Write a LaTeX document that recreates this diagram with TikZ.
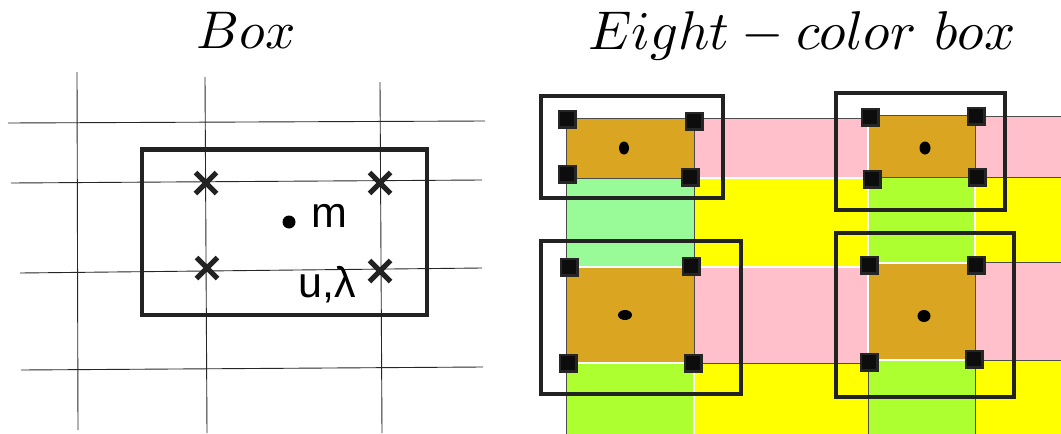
\documentclass[tikz,border=0pt]{standalone}
\usepackage{fontspec}
\usetikzlibrary{shapes.misc}
\newfontfamily\labelfont{Liberation Sans}
\definecolor{Gold}{HTML}{DAA520}
\definecolor{Pink}{HTML}{FFC0CB}
\definecolor{PaleGreen}{HTML}{98FB98}
\definecolor{LimeGreen}{HTML}{ADFF2F}
\definecolor{Yellow}{HTML}{FFFF00}
\definecolor{Ink}{HTML}{222222}

\begin{document}
\begin{tikzpicture}[x=1pt,y=-1pt,
  gridline/.style={black!85,line width=0.9pt},
  boxline/.style={Ink,line width=4.5pt},
  colorbox/.style={Ink,line width=3.3pt},
  cell/.style={draw=black!70,line width=0.8pt},
  seam/.style={draw=black!70,line width=0.7pt,double=white,double distance=1.3pt},
  xmark/.style={draw=Ink,cross out,line width=5pt,minimum size=16pt,inner sep=0pt},
  corner/.style={draw=black!85,fill=black!95,line width=2.5pt,minimum size=16.5pt,inner sep=0pt},
  bullet/.style={circle,fill=black,minimum size=13pt,inner sep=0pt},
  title/.style={scale=5.3,inner sep=0pt,anchor=base},
  tag/.style={font=\labelfont\fontsize{43}{43}\selectfont,inner sep=0pt,anchor=base west}]
\useasboundingbox (0,0) rectangle (1061,434);
% titles
\node[title] (box-title) at (246,48) {$Box$};
\node[title,scale=1.03] (eight-title) at (802,49) {$Eight-color\ box$};
% left panel: mesh and one box
\foreach \xa/\ya/\xb/\yb in {77/72/78/430,205/77/207/433,380/82/382/433} {\draw[gridline] (\xa,\ya) -- (\xb,\yb);}
\foreach \xa/\ya/\xb/\yb in {8/123/485/121,11/183/482/180,20/273/482/268,21/370/483/367} {\draw[gridline] (\xa,\ya) -- (\xb,\yb);}
\draw[boxline] (142,149.5) rectangle (427,315);
\foreach \n/\x/\y in {1/206/183,2/380/183,3/207/268,4/380/271} {\node[xmark] (x\n) at (\x,\y) {};}
\node[bullet] (m-dot) at (289,222) {};
\node[tag] (m-tag) at (311,227) {m};
\node[tag] (ul-tag) at (298,297) {u,λ};
% right panel: colored cells
\begin{scope}
\clip (520,0) rectangle (1061,434);
\foreach \xa/\xb/\ya/\yb/\c in {566/694/118/178/Gold,566/694/178/267/PaleGreen,566/694/267/363/Gold,566/694/363/440/LimeGreen,
  694/868/118/178/Pink,694/868/178/267/Yellow,694/868/267/363/Pink,694/868/363/440/Yellow,
  868/975/115/177/Gold,868/975/177/263/LimeGreen,868/975/263/360/Gold,868/975/360/440/LimeGreen,
  975/1070/116/177/Pink,975/1070/177/262/Yellow,975/1070/262/360/Pink,975/1070/360/440/Yellow}
  {\filldraw[cell,fill=\c] (\xa,\ya) rectangle (\xb,\yb);}
\foreach \xa/\ya/\xb/\yb in {694/178/868/178,868/116/868/363,975/177/975/263,566/267/868/267,868/263/975/263,566/363/694/363,868/360/975/360,694/363/694/440}
  {\draw[seam] (\xa,\ya) -- (\xb,\yb);}
\end{scope}
% cell centres
\foreach \x/\y/\rx/\ry in {624/148/5/6.5,625/315/7/5,925/148/5.5/6.5,924/316/6.5/6} {\fill[black] (\x,\y) ellipse [x radius=\rx,y radius=\ry];}
% corner marks
\foreach \n/\x/\y in {a1/567/119,a2/694/121,a3/567/174,a4/690/177,b1/569/267,b2/691/266,b3/568/363,b4/693/363,
  c1/870/117,c2/976/116,c3/872/179,c4/977/177,d1/869/265,d2/976/265,d3/869/362,d4/974/359} {\node[corner] (\n) at (\x,\y) {};}
% eight-color boxes
\draw[colorbox] (541,96) rectangle (723,198);
\draw[colorbox] (541,241) rectangle (741,394);
\draw[colorbox] (836,93) rectangle (1005,210);
\draw[colorbox] (836,233) rectangle (1014,397);
\end{tikzpicture}
\end{document}
